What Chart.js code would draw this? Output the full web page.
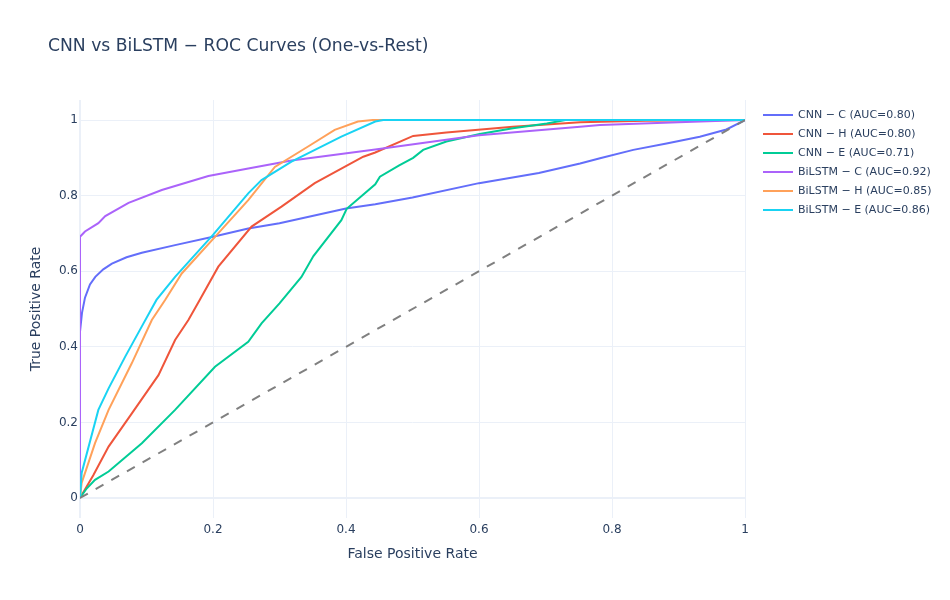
<!DOCTYPE html>
<html>
<head>
<meta charset="utf-8">
<script src="https://cdn.jsdelivr.net/npm/chart.js@4"></script>
<style>
  html, body { margin: 0; padding: 0; background: #fff; }
  #wrap { position: relative; width: 950px; height: 600px; font-family: "DejaVu Sans", sans-serif; color: #2a3f5f; }
  #title { position: absolute; left: 48px; top: 36.5px; font-size: 17.2px; line-height: 17px; white-space: nowrap; }
  #legend { position: absolute; left: 763px; top: 105px; }
  .item { display: flex; align-items: center; height: 19px; font-size: 11px; white-space: nowrap; }
  .swatch { width: 30px; height: 2px; margin-right: 5px; }
</style>
</head>
<body>
<div id="wrap">
  <canvas id="c" width="950" height="600" style="width:950px;height:600px;"></canvas>
  <div id="title">CNN vs BiLSTM − ROC Curves (One-vs-Rest)</div>
  <div id="legend"></div>
</div>
<script>
// ---- data ----
const seriesNames = ['CNN − C (AUC=0.80)', 'CNN − H (AUC=0.80)', 'CNN − E (AUC=0.71)',
                     'BiLSTM − C (AUC=0.92)', 'BiLSTM − H (AUC=0.85)', 'BiLSTM − E (AUC=0.86)'];

const cnnC_fpr = [0, 0, 0.003, 0.0075, 0.015, 0.023, 0.035, 0.048, 0.07, 0.093, 0.143, 0.2, 0.253, 0.3, 0.4, 0.444, 0.5, 0.6, 0.69, 0.752, 0.782, 0.832, 0.882, 0.932, 0.972, 1];
const cnnC_tpr = [0, 0.44, 0.49, 0.53, 0.565, 0.585, 0.605, 0.62, 0.637, 0.649, 0.669, 0.691, 0.713, 0.727, 0.766, 0.777, 0.795, 0.833, 0.86, 0.885, 0.899, 0.921, 0.938, 0.956, 0.975, 1];

const cnnH_fpr = [0, 0.02, 0.043, 0.078, 0.118, 0.143, 0.163, 0.18, 0.208, 0.258, 0.303, 0.353, 0.426, 0.444, 0.501, 0.551, 0.651, 0.752, 0.85, 1];
const cnnH_tpr = [0, 0.06, 0.136, 0.224, 0.325, 0.418, 0.471, 0.524, 0.612, 0.718, 0.771, 0.833, 0.903, 0.914, 0.958, 0.967, 0.982, 0.994, 0.998, 1];

const cnnE_fpr = [0, 0.01, 0.0226, 0.043, 0.093, 0.143, 0.203, 0.253, 0.273, 0.3, 0.333, 0.351, 0.393, 0.401, 0.444, 0.451, 0.48, 0.501, 0.516, 0.551, 0.601, 0.651, 0.702, 0.73, 1];
const cnnE_tpr = [0, 0.025, 0.048, 0.07, 0.145, 0.233, 0.347, 0.413, 0.462, 0.515, 0.585, 0.64, 0.735, 0.765, 0.83, 0.85, 0.88, 0.9, 0.921, 0.943, 0.963, 0.978, 0.991, 1, 1];

const bilC_fpr = [0, 0, 0.0075, 0.0276, 0.038, 0.073, 0.123, 0.193, 0.253, 0.318, 0.444, 0.6, 0.752, 0.782, 0.9, 1];
const bilC_tpr = [0, 0.691, 0.705, 0.727, 0.746, 0.781, 0.815, 0.852, 0.872, 0.893, 0.922, 0.96, 0.982, 0.987, 0.994, 1];

const bilH_fpr = [0, 0.0025, 0.0226, 0.043, 0.078, 0.108, 0.128, 0.153, 0.203, 0.253, 0.293, 0.343, 0.383, 0.418, 0.44, 1];
const bilH_tpr = [0, 0.04, 0.145, 0.233, 0.357, 0.471, 0.524, 0.594, 0.691, 0.788, 0.876, 0.93, 0.974, 0.996, 1, 1];

const bilE_fpr = [0, 0.0025, 0.0276, 0.043, 0.068, 0.093, 0.115, 0.143, 0.2, 0.253, 0.273, 0.318, 0.393, 0.444, 0.456, 1];
const bilE_tpr = [0, 0.066, 0.233, 0.29, 0.374, 0.454, 0.524, 0.585, 0.696, 0.806, 0.841, 0.89, 0.956, 0.996, 1, 1];

const diag_fpr = [0, 1];
const diag_tpr = [0, 1];

const tickValues = [0, 0.2, 0.4, 0.6, 0.8, 1];
const tickLabels = ['0', '0.2', '0.4', '0.6', '0.8', '1'];

// ---- styles ----
const colors = ['#636efa', '#EF553B', '#00cc96', '#ab63fa', '#FFA15A', '#19d3f3'];
const fprs = [cnnC_fpr, cnnH_fpr, cnnE_fpr, bilC_fpr, bilH_fpr, bilE_fpr];
const tprs = [cnnC_tpr, cnnH_tpr, cnnE_tpr, bilC_tpr, bilH_tpr, bilE_tpr];

const pts = (xs, ys) => xs.map((x, i) => ({ x: x, y: ys[i] }));

const datasets = seriesNames.map((name, i) => ({
  label: name,
  data: pts(fprs[i], tprs[i]),
  borderColor: colors[i],
  backgroundColor: colors[i],
  borderWidth: 2,
  pointRadius: 0,
  tension: 0,
  fill: false,
  showLine: true,
  order: 10 - i
}));
datasets.push({
  label: 'chance',
  data: pts(diag_fpr, diag_tpr),
  borderColor: '#808080',
  borderWidth: 2,
  borderDash: [9, 9],
  pointRadius: 0,
  showLine: true,
  fill: false,
  order: 0
});

const FONT = '"DejaVu Sans", sans-serif';
const gridOpts = {
  color: '#ebf0f8',
  lineWidth: (ctx) => (ctx.tick && ctx.tick.value === 0 ? 2 : 1),
  drawTicks: false
};
const tickFont = { family: FONT, size: 12 };
const labelFor = (v) => tickLabels[tickValues.indexOf(Math.round(v * 10) / 10)];

const chart = new Chart(document.getElementById('c'), {
  type: 'scatter',
  data: { datasets: datasets },
  options: {
    responsive: false,
    animation: false,
    devicePixelRatio: 1,
    layout: { padding: { left: 0, top: 100, right: 205, bottom: 0 } },
    plugins: { legend: { display: false }, title: { display: false }, tooltip: { enabled: false } },
    scales: {
      x: {
        type: 'linear', min: 0, max: 1,
        grid: gridOpts,
        border: { display: false },
        afterBuildTicks: (s) => { s.ticks = tickValues.map(v => ({ value: v })); },
        afterFit: (s) => { s.height = 82; },
        ticks: { color: '#2a3f5f', font: tickFont, padding: 5, maxRotation: 0, callback: labelFor },
        title: { display: true, text: 'False Positive Rate', color: '#2a3f5f',
                 font: { family: FONT, size: 14 }, padding: { top: 0, bottom: 37.6 } }
      },
      y: {
        type: 'linear', min: -0.053, max: 1.053,
        grid: gridOpts,
        border: { display: false },
        afterBuildTicks: (s) => { s.ticks = tickValues.map(v => ({ value: v })); },
        afterFit: (s) => { s.width = 80; },
        ticks: { color: '#2a3f5f', font: tickFont, padding: 2, callback: labelFor },
        title: { display: true, text: 'True Positive Rate', color: '#2a3f5f',
                 font: { family: FONT, size: 14 }, padding: { top: 27.6, bottom: 0 } }
      }
    }
  }
});

// HTML legend built from the chart's datasets
const legend = document.getElementById('legend');
chart.data.datasets.slice(0, seriesNames.length).forEach(ds => {
  const row = document.createElement('div');
  row.className = 'item';
  const sw = document.createElement('div');
  sw.className = 'swatch';
  sw.style.background = ds.borderColor;
  const tx = document.createElement('span');
  tx.textContent = ds.label;
  row.appendChild(sw); row.appendChild(tx);
  legend.appendChild(row);
});
</script>
</body>
</html>
